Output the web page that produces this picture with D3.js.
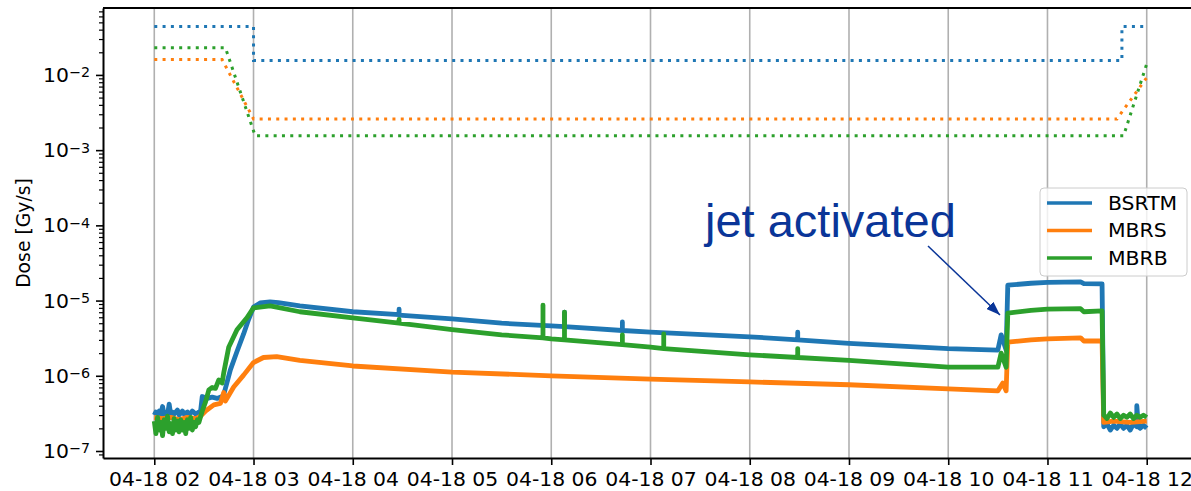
<!DOCTYPE html>
<html>
<head>
<meta charset="utf-8">
<script src="https://cdn.jsdelivr.net/npm/d3@7"></script>
<style>
  body { margin: 0; background: #fff; }
  svg { display: block; font-family: "DejaVu Sans", sans-serif; }
</style>
</head>
<body>
<script>
/* chart values */
var day = "2018-04-18"
var seriesNames = ["BSRTM", "MBRS", "MBRB"]
var seriesColors = ["#1f77b4", "#ff7f0e", "#2ca02c"]

var bsrtm = [
  ["02:00",3.0e-7],["02:01",3.3e-7],["02:02",2.9e-7],["02:03",3.4e-7],["02:04",3.1e-7],["02:05",3.9e-7],
  ["02:06",3.0e-7],["02:07",3.2e-7],["02:08",3.0e-7],["02:09",4.2e-7],["02:10",3.0e-7],["02:11",3.3e-7],
  ["02:12",3.1e-7],["02:14",3.5e-7],["02:15",3.0e-7],["02:17",3.4e-7],["02:18",3.1e-7],["02:20",3.3e-7],
  ["02:21",3.0e-7],["02:23",3.4e-7],["02:25",3.1e-7],["02:27",3.3e-7],["02:28",3.4e-7],["02:29",5.3e-7],
  ["02:32",5.0e-7],["02:35",5.2e-7],["02:38",5.0e-7],["02:41",5.3e-7],["02:42",5.6e-7],["02:46",1.2e-6],
  ["02:50",2.1e-6],["02:54",3.6e-6],["02:57",5.6e-6],["03:00",8.2e-6],["03:04",9.3e-6],["03:10",9.6e-6],
  ["03:15",9.4e-6],["03:28",8.5e-6],["04:00",7.1e-6],["04:28",6.5e-6],["04:28",7.7e-6],["04:28",6.4e-6],
  ["05:00",5.7e-6],["05:30",5.0e-6],["06:00",4.6e-6],["06:08",4.5e-6],["06:08",7.0e-6],["06:08",4.5e-6],
  ["06:43",4.0e-6],["06:43",5.2e-6],["06:43",4.0e-6],["07:00",3.8e-6],["08:00",3.3e-6],["08:29",3.0e-6],
  ["08:29",3.8e-6],["08:29",3.0e-6],["09:00",2.7e-6],["10:00",2.3e-6],["10:30",2.2e-6],["10:32",3.5e-6],
  ["10:35",2.2e-6],["10:36",1.6e-5],["10:50",1.7e-5],["11:00",1.75e-5],["11:20",1.77e-5],["11:22",1.68e-5],
  ["11:33",1.67e-5],["11:34",2.1e-7],["11:36",2.3e-7],["11:38",1.9e-7],["11:40",2.2e-7],["11:42",2.0e-7],
  ["11:44",2.3e-7],["11:46",2.0e-7],["11:48",2.2e-7],["11:50",1.9e-7],["11:52",2.3e-7],["11:54",2.1e-7],
  ["11:54",4.0e-7],["11:55",2.1e-7],["11:56",2.0e-7],["11:58",2.2e-7],["12:00",2.0e-7]
]

var mbrs = [
  ["02:00",2.8e-7],["02:05",2.7e-7],["02:10",2.8e-7],["02:15",2.6e-7],["02:20",2.8e-7],["02:25",2.7e-7],
  ["02:28",2.9e-7],["02:31",3.4e-7],["02:36",4.1e-7],["02:40",4.3e-7],["02:42",6.0e-7],["02:43",4.6e-7],
  ["02:48",7.1e-7],["02:54",1.02e-6],["03:00",1.5e-6],["03:06",1.75e-6],["03:14",1.8e-6],["03:28",1.6e-6],
  ["04:00",1.35e-6],["05:00",1.12e-6],["06:00",1.0e-6],["07:00",9.0e-7],["08:00",8.3e-7],["09:00",7.6e-7],
  ["10:00",6.7e-7],["10:30",6.3e-7],["10:33",8.0e-7],["10:35",6.3e-7],["10:36",2.8e-6],["10:50",3.0e-6],
  ["11:00",3.1e-6],["11:20",3.2e-6],["11:22",2.9e-6],["11:33",2.9e-6],["11:34",2.4e-7],["11:40",2.5e-7],
  ["11:50",2.4e-7],["12:00",2.5e-7]
]

var mbrb = [
  ["02:00",2.5e-7],["02:01",1.7e-7],["02:02",2.8e-7],["02:03",1.9e-7],["02:04",2.4e-7],["02:05",1.6e-7],
  ["02:06",2.6e-7],["02:07",2.0e-7],["02:08",2.9e-7],["02:09",1.8e-7],["02:10",2.3e-7],["02:11",1.7e-7],
  ["02:12",2.7e-7],["02:13",1.9e-7],["02:14",2.5e-7],["02:15",1.8e-7],["02:16",2.6e-7],["02:17",1.9e-7],
  ["02:18",2.4e-7],["02:19",1.7e-7],["02:20",2.6e-7],["02:21",2.0e-7],["02:22",2.8e-7],["02:23",1.9e-7],
  ["02:24",2.4e-7],["02:25",2.1e-7],["02:26",2.6e-7],["02:27",2.4e-7],["02:29",3.4e-7],["02:31",4.5e-7],
  ["02:33",6.5e-7],["02:35",7.0e-7],["02:37",6.8e-7],["02:39",8.8e-7],["02:41",8.0e-7],["02:42",1.1e-6],
  ["02:45",2.4e-6],["02:50",4.1e-6],["02:56",5.9e-6],["03:00",8.0e-6],["03:10",8.5e-6],["03:28",7.1e-6],
  ["04:00",5.9e-6],["04:28",5.0e-6],["04:28",5.6e-6],["04:28",5.0e-6],["05:00",4.1e-6],["05:30",3.5e-6],
  ["05:55",3.2e-6],["05:55",8.7e-6],["05:55",3.2e-6],["06:00",3.1e-6],["06:08",3.0e-6],["06:08",7.0e-6],
  ["06:08",3.0e-6],["06:43",2.6e-6],["06:43",3.5e-6],["06:43",2.6e-6],["07:00",2.4e-6],["07:08",2.3e-6],
  ["07:08",3.6e-6],["07:08",2.3e-6],["08:00",1.9e-6],["08:29",1.75e-6],["08:29",2.3e-6],["08:29",1.75e-6],
  ["09:00",1.6e-6],["10:00",1.3e-6],["10:30",1.3e-6],["10:32",2.0e-6],["10:35",1.3e-6],["10:36",6.8e-6],
  ["10:50",7.4e-6],["11:00",7.7e-6],["11:20",7.8e-6],["11:22",7.1e-6],["11:33",7.3e-6],["11:34",3.0e-7],
  ["11:36",2.7e-7],["11:38",3.2e-7],["11:40",2.8e-7],["11:42",3.1e-7],["11:44",2.7e-7],["11:46",3.0e-7],
  ["11:48",2.8e-7],["11:50",3.1e-7],["11:52",2.7e-7],["11:54",3.0e-7],["11:56",2.8e-7],["11:58",3.0e-7],
  ["12:00",2.8e-7]
]

/* dotted upper curves, same colours */
var limBsrtm = [["02:00",0.044],["03:00",0.044],["03:00",0.0155],["11:45",0.0155],["11:45",0.044],["12:00",0.044]]
var limMbrs  = [["02:00",0.016],["02:41",0.016],["03:00",0.0026],["11:42",0.0026],["12:00",0.0092]]
var limMbrb  = [["02:00",0.023],["02:43",0.023],["03:01",0.00155],["11:46",0.00155],["12:00",0.014]]

var xDomain = ["01:29", "12:31"]
var yDomain = [8.07e-8, 0.0776]
var yMajor = [1e-7, 1e-6, 1e-5, 1e-4, 1e-3, 1e-2]
var yLabel = "Dose [Gy/s]"
var noteText = "jet activated"

d3.select(window).on('load', main())

function main() {

  var W = 1191, H = 491
  var left = 103, right = 1198, top = 8, bottom = 458
  var fontSize = "19.4px"
  var stretch = "scale(1.05,1)"

  var parseTime = d3.timeParse("%Y-%m-%d %H:%M")
  function t(s) { return parseTime(day + " " + s) }

  var x = d3.scaleTime().domain(xDomain.map(t)).range([left, right])
  var y = d3.scaleLog().domain(yDomain).range([bottom, top])

  var svg = d3.select("body").append("svg")
    .attr("width", W)
    .attr("height", H)

  // vertical grid at every hour
  var hours = d3.timeHour.range(t("02:00"), t("12:01"))
  svg.append("g").attr("class", "grid")
    .selectAll("line")
    .data(hours)
    .enter().append("line")
    .attr("x1", function(d) { return x(d) })
    .attr("x2", function(d) { return x(d) })
    .attr("y1", top)
    .attr("y2", bottom)
    .attr("stroke", "#b0b0b0")
    .attr("stroke-width", 1.6)

  var line = d3.line()
    .x(function(d) { return x(t(d[0])) })
    .y(function(d) { return y(d[1]) })

  // dotted curves
  var lims = [limBsrtm, limMbrs, limMbrb]
  svg.append("g").selectAll("path")
    .data(lims)
    .enter().append("path")
    .attr("d", line)
    .attr("fill", "none")
    .attr("stroke", function(d, i) { return seriesColors[i] })
    .attr("stroke-width", 3)
    .attr("stroke-dasharray", "3,5.3")

  // measured doses
  var series = [bsrtm, mbrs, mbrb]
  svg.append("g").selectAll("path")
    .data(series)
    .enter().append("path")
    .attr("d", line)
    .attr("fill", "none")
    .attr("stroke", function(d, i) { return seriesColors[i] })
    .attr("stroke-width", 4.8)
    .attr("stroke-linejoin", "round")

  // x axis
  var xAxis = d3.axisBottom(x)
    .tickValues(hours)
    .tickFormat(d3.timeFormat("%m-%d %H"))
    .tickSize(7)
    .tickPadding(7)
    .tickSizeOuter(0)

  var gx = svg.append("g")
    .attr("transform", "translate(0," + bottom + ")")
    .call(xAxis)
  gx.attr("font-family", null).attr("font-size", null)
  gx.select(".domain").attr("stroke-width", 2)
  gx.selectAll(".tick line").attr("stroke-width", 1.6)
  gx.selectAll(".tick text")
    .attr("font-size", fontSize)
    .attr("fill", "#000")
    .attr("transform", stretch)

  // y axis, majors and log minors
  var yMinor = []
  for (var k = -8; k <= -2; k++) {
    for (var m = 2; m <= 9; m++) {
      var v = m * Math.pow(10, k)
      if (v > yDomain[0] && v < yDomain[1]) yMinor.push(v)
    }
  }

  var gy = svg.append("g")
    .attr("transform", "translate(" + left + ",0)")
    .call(d3.axisLeft(y).tickValues(yMajor).tickFormat("").tickSize(7).tickSizeOuter(0))
  gy.select(".domain").attr("stroke-width", 2)
  gy.selectAll(".tick line").attr("stroke-width", 1.6)

  var gyMinor = svg.append("g")
    .attr("transform", "translate(" + left + ",0)")
    .call(d3.axisLeft(y).tickValues(yMinor).tickFormat("").tickSize(4).tickSizeOuter(0))
  gyMinor.select(".domain").remove()
  gyMinor.selectAll(".tick line").attr("stroke-width", 1.2)

  var yt = svg.append("g").selectAll("text")
    .data(yMajor)
    .enter().append("text")
    .attr("transform", function(d) { return "translate(90," + (y(d) + 7) + ") " + stretch })
    .attr("text-anchor", "end")
    .attr("font-size", fontSize)
  yt.append("tspan").text("10")
  yt.append("tspan")
    .attr("dy", -4.6)
    .attr("font-size", "13.6px")
    .text(function(d) { return "\u2212" + Math.abs(Math.round(Math.log10(d))) })

  // top spine
  svg.append("line")
    .attr("x1", left).attr("x2", right)
    .attr("y1", top).attr("y2", top)
    .attr("stroke", "#000")
    .attr("stroke-width", 2)

  // y label
  svg.append("text")
    .attr("transform", "translate(30," + ((top + bottom) / 2) + ") rotate(-90)")
    .attr("text-anchor", "middle")
    .attr("font-size", "18.8px")
    .text(yLabel)

  // legend
  var legend = svg.append("g").attr("transform", "translate(1040,188)")
  legend.append("rect")
    .attr("width", 147)
    .attr("height", 88)
    .attr("rx", 4)
    .attr("fill", "#fff")
    .attr("fill-opacity", 0.8)
    .attr("stroke", "#cccccc")
  var item = legend.selectAll("g.item")
    .data(seriesNames)
    .enter().append("g")
    .attr("class", "item")
    .attr("transform", function(d, i) { return "translate(0," + (15 + i * 27.5) + ")" })
  item.append("line")
    .attr("x1", 7).attr("x2", 52)
    .attr("stroke", function(d, i) { return seriesColors[i] })
    .attr("stroke-width", 3.3)
  item.append("text")
    .attr("transform", "translate(68,6.8) " + stretch)
    .attr("font-size", fontSize)
    .text(function(d) { return d })

  // annotation
  var noteColor = "#0a3598"
  svg.append("text")
    .attr("x", 705)
    .attr("y", 237)
    .attr("font-family", "'Liberation Sans', Arial, sans-serif")
    .attr("font-size", "47px")
    .attr("fill", noteColor)
    .text(noteText)

  svg.append("defs").append("marker")
    .attr("id", "head")
    .attr("markerUnits", "userSpaceOnUse")
    .attr("viewBox", "0 0 14 10")
    .attr("refX", 14).attr("refY", 5)
    .attr("markerWidth", 14).attr("markerHeight", 10)
    .attr("orient", "auto")
    .append("path")
    .attr("d", "M0,0 L14,5 L0,10 Z")
    .attr("fill", noteColor)

  svg.append("line")
    .attr("x1", 928).attr("y1", 246)
    .attr("x2", 1000).attr("y2", 315)
    .attr("stroke", noteColor)
    .attr("stroke-width", 1.5)
    .attr("marker-end", "url(#head)")
}
</script>
</body>
</html>
